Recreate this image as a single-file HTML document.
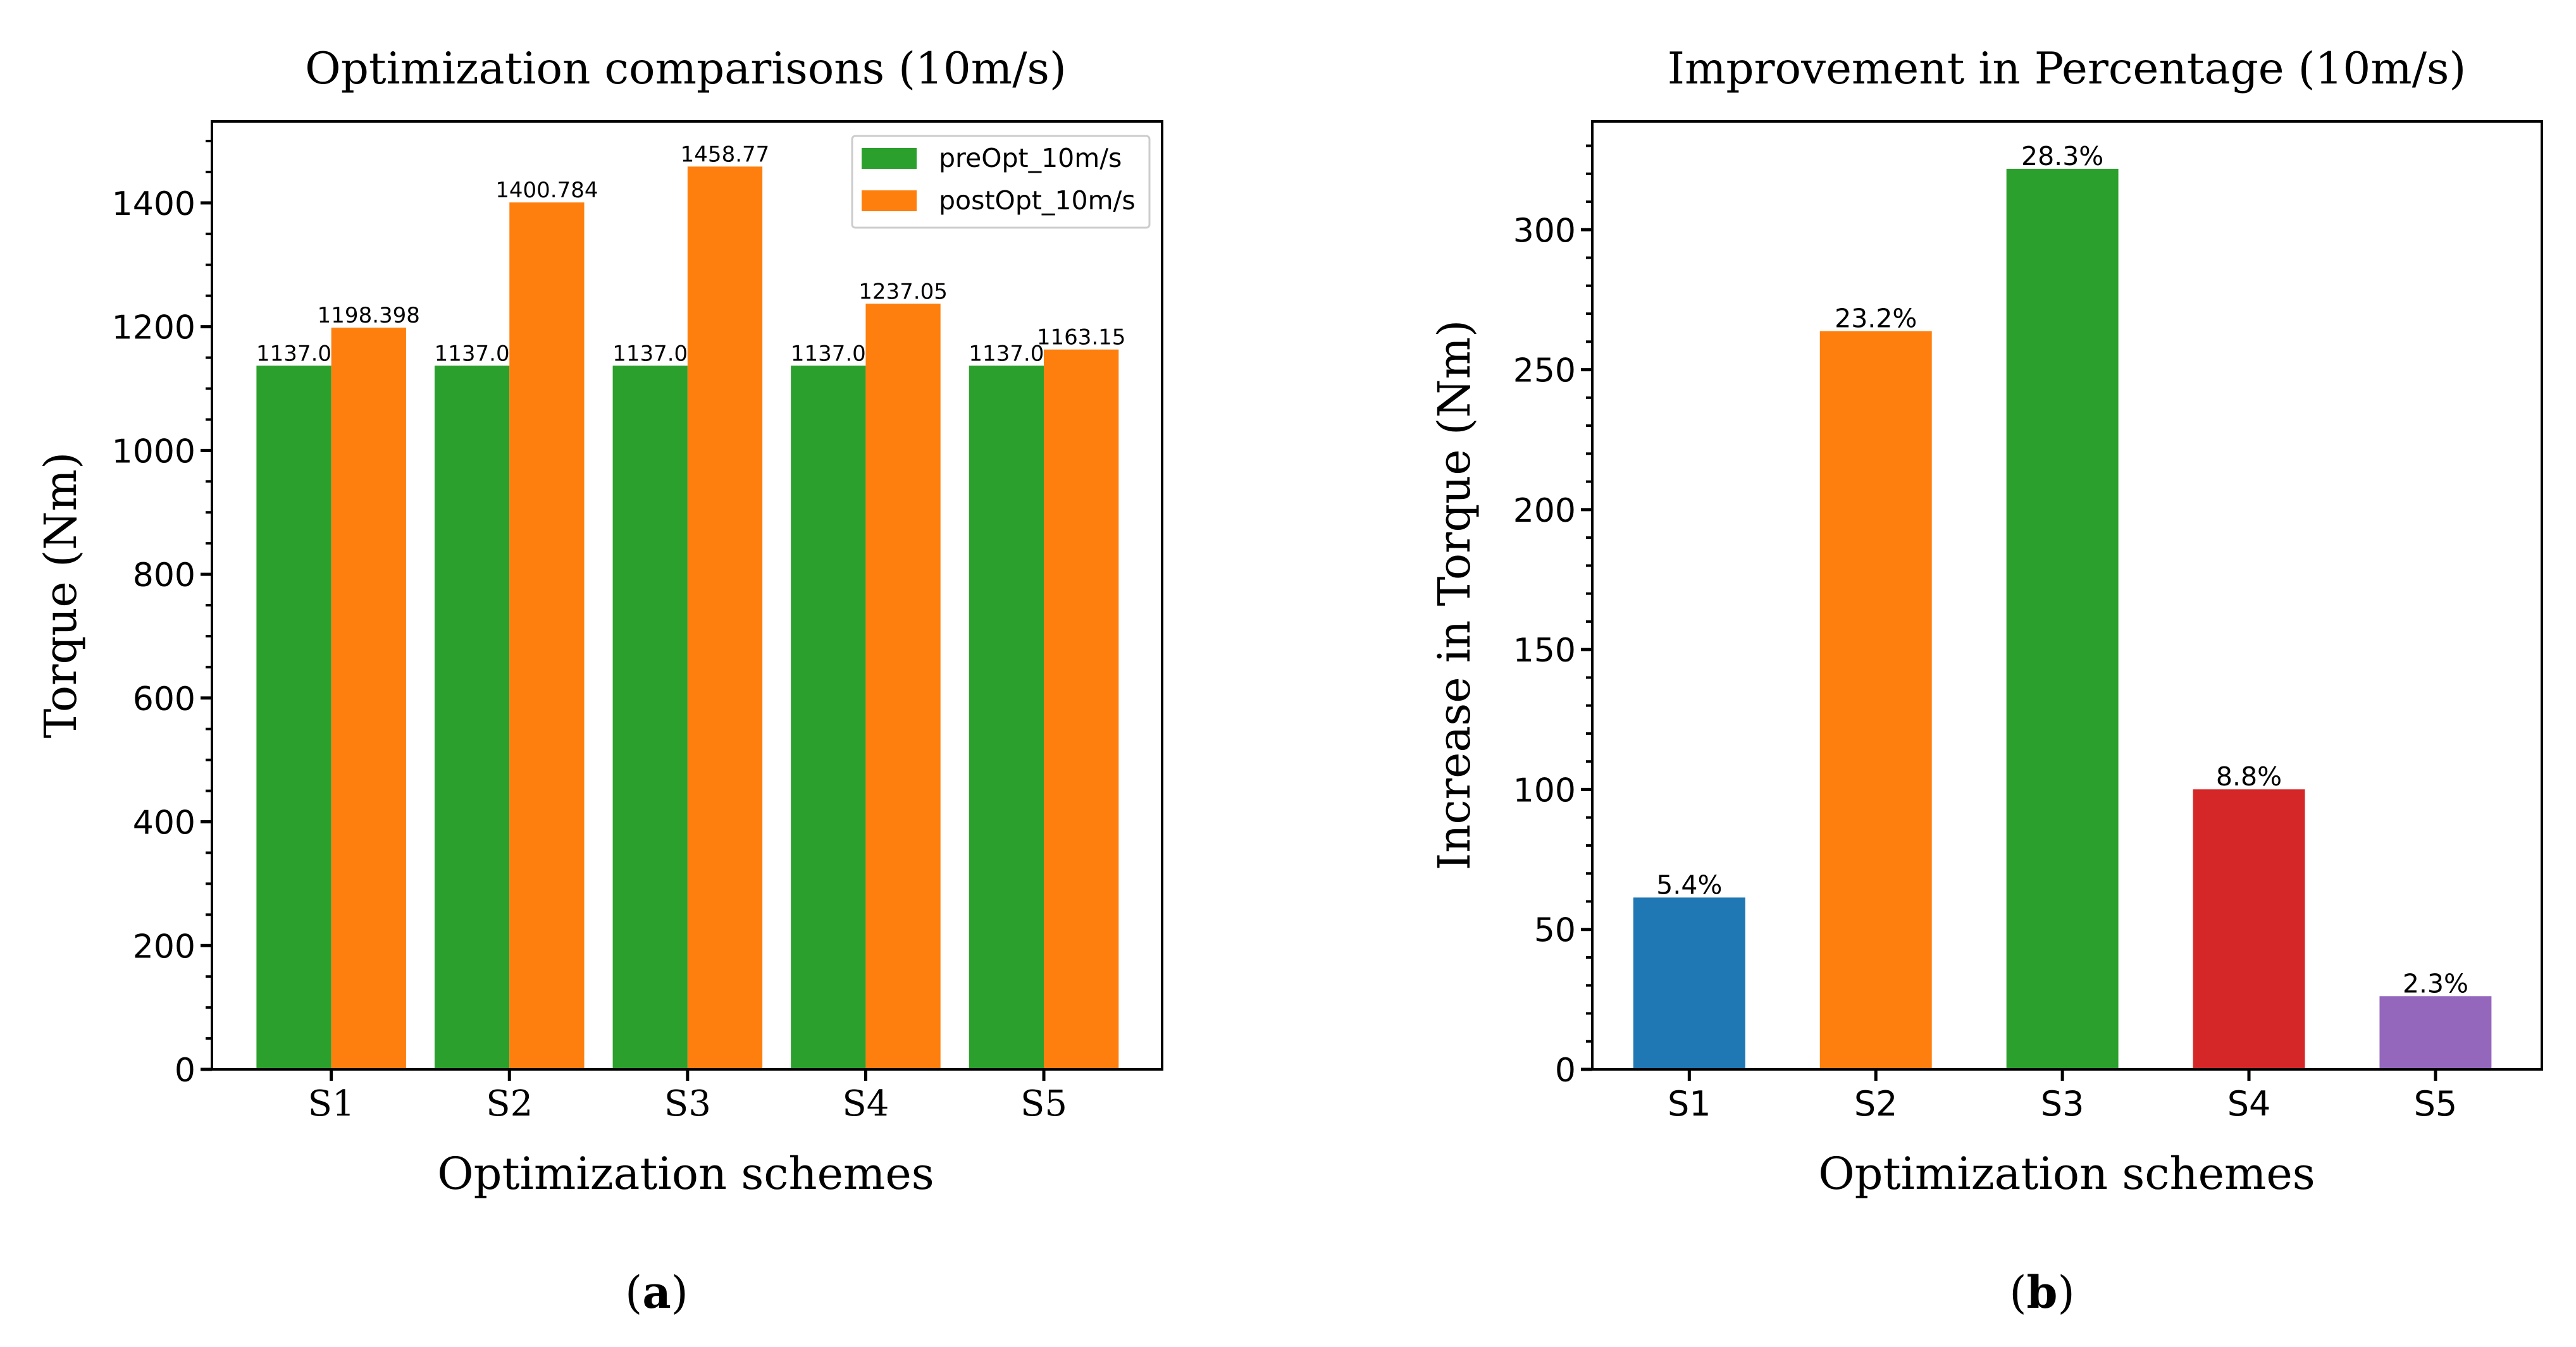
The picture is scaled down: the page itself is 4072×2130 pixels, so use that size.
<!DOCTYPE html>
<html><head><meta charset="utf-8">
<style>
html,body{margin:0;padding:0;background:#fff;}
svg{display:block;}
.serif{font-family:"DejaVu Serif","Liberation Serif",serif;}
.sans{font-family:"DejaVu Sans","Liberation Sans",sans-serif;}
</style></head>
<body>
<svg id="fig" width="4072" height="2130" viewBox="0 0 4072 2130" xmlns="http://www.w3.org/2000/svg">
<rect width="4072" height="2130" fill="#fff"/>
</svg>
<script>
const categories = ["S1","S2","S3","S4","S5"];
const preOpt = [1137.0,1137.0,1137.0,1137.0,1137.0];
const postOpt = [1198.398,1400.784,1458.77,1237.05,1163.15];
const preLabels = ["1137.0","1137.0","1137.0","1137.0","1137.0"];
const postLabels = ["1198.398","1400.784","1458.77","1237.05","1163.15"];
const leftTicks = [0,200,400,600,800,1000,1200,1400];
const increase = [61.398,263.784,321.77,100.05,26.15];
const pctLabels = ["5.4%","23.2%","28.3%","8.8%","2.3%"];
const rightTicks = [0,50,100,150,200,250,300];
const rightColors = ["#1f77b4","#ff7f0e","#2ca02c","#d62728","#9467bd"];

const NS="http://www.w3.org/2000/svg";
const svg=document.getElementById('fig');
function mk(tag,attrs,parent,text){const e=document.createElementNS(NS,tag);for(const k in attrs)e.setAttribute(k,attrs[k]);if(text!==undefined)e.textContent=text;(parent||svg).appendChild(e);return e;}

function axes(o){
  const g=mk('g',{});
  
  
  const x=v=>o.x0+(v-o.xmin)/(o.xmax-o.xmin)*(o.x1-o.x0);
  const y=v=>o.y1-(v-0)/o.ymax*(o.y1-o.y0);
  return {g,x,y};
}

// ---------- Left chart ----------
(function(){
  const o={name:'chart-a',x0:335,x1:1837,y0:192,y1:1691,xmin:-0.67,xmax:4.664,ymax:1531.7};
  const {g,x,y}=axes(o);
  const w=0.42;
  for(let i=0;i<categories.length;i++){
    const b1=mk('rect',{x:x(i-w),y:y(preOpt[i]),width:x(i)-x(i-w),height:y(0)-y(preOpt[i]),fill:'#2ca02c'},g);
    
    
    const b2=mk('rect',{x:x(i),y:y(postOpt[i]),width:x(i+w)-x(i),height:y(0)-y(postOpt[i]),fill:'#ff7f0e'},g);
    
    
    const t1=mk('text',{x:x(i-w/2),y:y(preOpt[i])-8,'text-anchor':'middle','font-size':34,class:'sans'},g,preLabels[i]);
    
    
    const t2=mk('text',{x:x(i+w/2),y:y(postOpt[i])-8,'text-anchor':'middle','font-size':34,class:'sans'},g,postLabels[i]);
    
    
    mk('line',{x1:x(i),x2:x(i),y1:o.y1,y2:o.y1+18,stroke:'#000','stroke-width':5},g);
    const xl=mk('text',{x:x(i),y:1764,'text-anchor':'middle','font-size':56,class:'serif'},g,categories[i]);
    
    
  }
  for(let v=0;v<=1500;v+=50){
    const major=leftTicks.includes(v);
    mk('line',{x1:o.x0,x2:o.x0-(major?18:10),y1:y(v),y2:y(v),stroke:'#000','stroke-width':major?5:4},g);
  }
  leftTicks.forEach(v=>{
    const t=mk('text',{x:o.x0-26,y:y(v)+19,'text-anchor':'end','font-size':52,class:'sans'},g,String(v));
    
    
  });
  mk('rect',{x:o.x0,y:o.y0,width:o.x1-o.x0,height:o.y1-o.y0,fill:'none',stroke:'#000','stroke-width':4},g);
  const leg=mk('g',{},g);
  
  
  mk('rect',{x:1347,y:215,width:470,height:145,fill:'#fff',stroke:'#ccc','stroke-width':3,rx:5},leg);
  mk('rect',{x:1362,y:234,width:87,height:33,fill:'#2ca02c'},leg);
  mk('rect',{x:1362,y:301,width:87,height:33,fill:'#ff7f0e'},leg);
  const l1=mk('text',{x:1484,y:264,'font-size':41,class:'sans'},leg,'preOpt_10m/s');
  
  
  const l2=mk('text',{x:1484,y:331,'font-size':41,class:'sans'},leg,'postOpt_10m/s');
  
  
  const tt=mk('text',{x:1084,y:132,'text-anchor':'middle','font-size':69,class:'serif'},g,'Optimization comparisons (10m/s)');
  
  
  const xt=mk('text',{x:1084,y:1880,'text-anchor':'middle','font-size':70,class:'serif'},g,'Optimization schemes');
  
  
  const yt=mk('text',{x:0,y:0,'text-anchor':'middle','font-size':70,class:'serif',transform:'translate(120,941) rotate(-90)'},g,'Torque (Nm)');
  
  
  const cap=mk('text',{x:1038,y:2068,'text-anchor':'middle','font-size':70,class:'serif'},g);
  cap.innerHTML='(<tspan font-weight="bold">a</tspan>)';
  
  
})();

// ---------- Right chart ----------
(function(){
  const o={name:'chart-b',x0:2517,x1:4018,y0:192,y1:1691,xmin:-0.52,xmax:4.57,ymax:338.7};
  const {g,x,y}=axes(o);
  const w=0.3;
  for(let i=0;i<categories.length;i++){
    const b=mk('rect',{x:x(i-w),y:y(increase[i]),width:x(i+w)-x(i-w),height:y(0)-y(increase[i]),fill:rightColors[i]},g);
    
    
    const t=mk('text',{x:x(i),y:y(increase[i])-6,'text-anchor':'middle','font-size':41,class:'sans'},g,pctLabels[i]);
    
    
    mk('line',{x1:x(i),x2:x(i),y1:o.y1,y2:o.y1+18,stroke:'#000','stroke-width':5},g);
    const xl=mk('text',{x:x(i),y:1764,'text-anchor':'middle','font-size':54,class:'sans'},g,categories[i]);
    
    
  }
  for(let v=0;v<=330;v+=10){
    const major=rightTicks.includes(v);
    mk('line',{x1:o.x0,x2:o.x0-(major?18:10),y1:y(v),y2:y(v),stroke:'#000','stroke-width':major?5:4},g);
  }
  rightTicks.forEach(v=>{
    const t=mk('text',{x:o.x0-26,y:y(v)+19,'text-anchor':'end','font-size':52,class:'sans'},g,String(v));
    
    
  });
  mk('rect',{x:o.x0,y:o.y0,width:o.x1-o.x0,height:o.y1-o.y0,fill:'none',stroke:'#000','stroke-width':4},g);
  const tt=mk('text',{x:3267,y:132,'text-anchor':'middle','font-size':69,class:'serif'},g,'Improvement in Percentage (10m/s)');
  
  
  const xt=mk('text',{x:3267,y:1880,'text-anchor':'middle','font-size':70,class:'serif'},g,'Optimization schemes');
  
  
  const yt=mk('text',{x:0,y:0,'text-anchor':'middle','font-size':70,class:'serif',transform:'translate(2323,941) rotate(-90)'},g,'Increase in Torque (Nm)');
  
  
  const cap=mk('text',{x:3228,y:2068,'text-anchor':'middle','font-size':70,class:'serif'},g);
  cap.innerHTML='(<tspan font-weight="bold">b</tspan>)';
  
  
})();
</script>
</body></html>
